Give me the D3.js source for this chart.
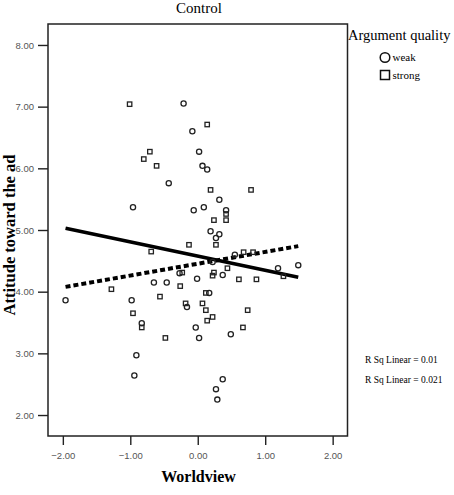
<!DOCTYPE html>
<html>
<head>
<meta charset="utf-8">
<title>Control</title>
<style>
    body { margin: 0; background: #fff; }
    svg { display: block; }
</style>
</head>
<body>
<div id="chart"></div>
<script src="https://d3js.org/d3.v7.min.js"></script>
<script>
// Worldview (x) and attitude (y) for each argument-quality group
const weakX = [-0.21, -0.08, 0.02, 0.07, 0.14, -0.43, -0.96, -0.06, 0.09, 0.32, 0.42, 0.19, 0.32, 0.27,
    0.55, 0.22, 1.19, 1.49, -0.27, 0.37, -0.01, -0.65, -0.46, -1.96, -0.98, -0.16, 0.17, -0.83, -0.03,
    0.02, 0.49, -0.91, -0.94, 0.37, 0.27, 0.29];
const weakY = [7.05, 6.60, 6.27, 6.04, 5.98, 5.76, 5.37, 5.32, 5.37, 5.49, 5.32, 4.98, 4.93, 4.87,
    4.60, 4.48, 4.38, 4.43, 4.30, 4.27, 4.21, 4.15, 4.15, 3.86, 3.86, 3.75, 3.98, 3.49, 3.42,
    3.25, 3.31, 2.97, 2.64, 2.58, 2.42, 2.25];
const strongX = [-1.01, 0.14, -0.71, -0.80, -0.61, 0.19, 0.79, 0.42, 0.24, 0.42, -0.13, 0.27, -0.69,
    0.68, 0.82, 0.44, -0.23, 0.24, 0.22, 0.61, 0.87, 1.27, -1.28, -0.26, -0.56, 0.12, -0.18, 0.07,
    -0.96, 0.12, 0.74, 0.22, 0.14, -0.83, 0.67, -0.48];
const strongY = [7.04, 6.71, 6.27, 6.15, 6.04, 5.65, 5.65, 5.26, 5.16, 5.16, 4.76, 4.76, 4.65,
    4.64, 4.64, 4.38, 4.31, 4.31, 4.26, 4.20, 4.20, 4.25, 4.04, 4.09, 3.92, 3.98, 3.81, 3.81,
    3.65, 3.70, 3.70, 3.59, 3.53, 3.42, 3.42, 3.25];

// linear fits (intercept, slope) and x range of the fit lines
const fitWeak = [4.577, -0.231];
const fitStrong = [4.453, 0.1915];
const fitRange = [-1.96, 1.49];

const xTicks = [-2, -1, 0, 1, 2];
const yTicks = [2, 3, 4, 5, 6, 7, 8];
const rsqLabels = ["R Sq Linear = 0.01", "R Sq Linear = 0.021"];
const legendLabels = ["weak", "strong"];

const width = 454, height = 495;
const plot = {left: 48, right: 347.5, top: 24, bottom: 436};

const svg = d3.select("#chart").append("svg")
    .attr("width", width)
    .attr("height", height);

const x = d3.scaleLinear().domain([-2.22, 2.22]).range([plot.left, plot.right]);
const y = d3.scaleLinear().domain([1.66, 8.34]).range([plot.bottom, plot.top]);

// Title
svg.append("text")
    .attr("x", 199).attr("y", 13)
    .attr("text-anchor", "middle")
    .style("font-family", "Liberation Serif, serif")
    .style("font-size", "15px")
    .text("Control");

// Axes
const xAxis = svg.append("g")
    .attr("transform", `translate(0,${plot.bottom})`)
    .call(d3.axisBottom(x).tickValues(xTicks).tickSize(9).tickSizeOuter(0).tickFormat(d3.format(".2f")));
const yAxis = svg.append("g")
    .attr("transform", `translate(${plot.left},0)`)
    .call(d3.axisLeft(y).tickValues(yTicks).tickSize(10).tickSizeOuter(0).tickFormat(d3.format(".2f")));

[xAxis, yAxis].forEach(g => {
    g.select(".domain").remove();
    g.selectAll(".tick line").attr("stroke", "#222").attr("stroke-width", 1.4);
    g.selectAll(".tick text")
        .attr("fill", "#555")
        .style("font-family", "Liberation Sans, Arial, sans-serif")
        .style("font-size", "9.5px");
});
xAxis.selectAll(".tick text").attr("dy", "1.15em");
yAxis.selectAll(".tick text").attr("x", -14);

// Frame
svg.append("rect")
    .attr("x", plot.left).attr("y", plot.top)
    .attr("width", plot.right - plot.left)
    .attr("height", plot.bottom - plot.top)
    .attr("fill", "none")
    .attr("stroke", "#222")
    .attr("stroke-width", 1.5);

// Axis titles
svg.append("text")
    .attr("x", 198.5).attr("y", 482)
    .attr("text-anchor", "middle")
    .style("font-family", "Liberation Serif, serif")
    .style("font-weight", "bold")
    .style("font-size", "16px")
    .text("Worldview");

svg.append("text")
    .attr("transform", "translate(15,235) rotate(-90)")
    .attr("text-anchor", "middle")
    .style("font-family", "Liberation Serif, serif")
    .style("font-weight", "bold")
    .style("font-size", "16.5px")
    .text("Attitude toward the ad");

// Fit lines
const fitLine = fit => fitRange.map(v => [x(v), y(fit[0] + fit[1] * v)]);
const line = d3.line();

svg.append("path")
    .attr("d", line(fitLine(fitWeak)))
    .attr("stroke", "#000")
    .attr("stroke-width", 3.6)
    .attr("fill", "none");

svg.append("path")
    .attr("d", line(fitLine(fitStrong)))
    .attr("stroke", "#000")
    .attr("stroke-width", 4)
    .attr("stroke-dasharray", "5,3")
    .attr("fill", "none");

// Points
svg.append("g").selectAll("circle")
    .data(d3.zip(weakX, weakY))
    .join("circle")
    .attr("cx", d => x(d[0]))
    .attr("cy", d => y(d[1]))
    .attr("r", 2.6)
    .attr("fill", "none")
    .attr("stroke", "#222")
    .attr("stroke-width", 1.3);

svg.append("g").selectAll("rect")
    .data(d3.zip(strongX, strongY))
    .join("rect")
    .attr("x", d => x(d[0]) - 2.2)
    .attr("y", d => y(d[1]) - 2.2)
    .attr("width", 4.4)
    .attr("height", 4.4)
    .attr("fill", "none")
    .attr("stroke", "#222")
    .attr("stroke-width", 1.3);

// Legend
svg.append("text")
    .attr("x", 348).attr("y", 40)
    .style("font-family", "Liberation Serif, serif")
    .style("font-size", "14.5px")
    .text("Argument quality");

const legend = svg.selectAll(".legend")
    .data(legendLabels)
    .join("g")
    .attr("class", "legend")
    .attr("transform", (d, i) => `translate(385,${57.5 + i * 17.5})`);

legend.filter((d, i) => i === 0).append("circle")
    .attr("r", 4.8)
    .attr("fill", "none")
    .attr("stroke", "#111")
    .attr("stroke-width", 1.5);

legend.filter((d, i) => i === 1).append("rect")
    .attr("x", -4.5).attr("y", -4.5)
    .attr("width", 9).attr("height", 9)
    .attr("fill", "none")
    .attr("stroke", "#111")
    .attr("stroke-width", 1.5);

legend.append("text")
    .attr("x", 7.5)
    .attr("dy", "0.33em")
    .style("font-family", "Liberation Serif, serif")
    .style("font-size", "11px")
    .text(d => d);

// R squared labels
svg.selectAll(".rsq")
    .data(rsqLabels)
    .join("text")
    .attr("class", "rsq")
    .attr("x", 365)
    .attr("y", (d, i) => 363 + i * 20)
    .style("font-family", "Liberation Serif, serif")
    .style("font-size", "9.5px")
    .text(d => d);
</script>
</body>
</html>
